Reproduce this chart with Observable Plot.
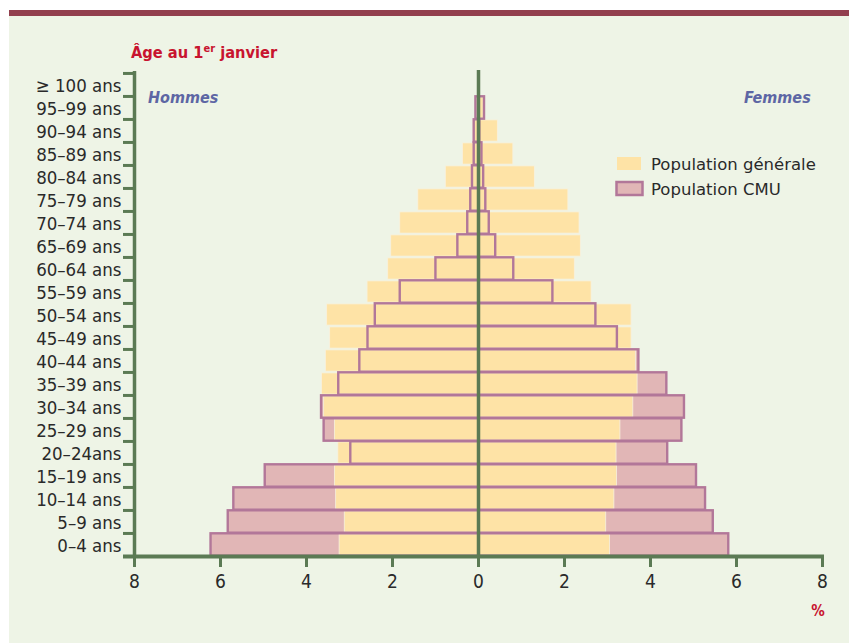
<!DOCTYPE html>
<html>
<head>
<meta charset="utf-8">
<script src="https://cdn.jsdelivr.net/npm/d3@7"></script>
<script src="https://cdn.jsdelivr.net/npm/@observablehq/plot@0.6"></script>
<style>
  html, body { margin: 0; padding: 0; background: #ffffff; }
  #wrap { position: relative; width: 849px; height: 643px; overflow: hidden; background: #ffffff; }
  #bg { position: absolute; left: 9px; top: 15px; right: 0; bottom: 0; background: #eef4e6; }
  #bar { position: absolute; left: 9px; top: 10px; right: 0; height: 6px; background: #923f4e; }
  #chart, #overlay { position: absolute; left: 0; top: 0; }
  svg text { font-family: "DejaVu Sans Condensed", "DejaVu Sans", sans-serif; font-stretch: condensed; }
  svg text.wide { font-family: "DejaVu Sans", sans-serif; font-stretch: normal; }
</style>
</head>
<body>
<div id="wrap">
  <div id="bg"></div>
  <div id="bar"></div>
  <div id="chart"></div>
  <svg id="overlay" width="849" height="643">
    <text x="131" y="58" font-size="16.3" font-weight="bold" fill="#c8142f">Âge au 1<tspan dy="-6" font-size="11">er</tspan><tspan dy="6"> janvier</tspan></text>
    <text x="148" y="103" font-size="16" font-weight="bold" font-style="italic" fill="#5d66a4">Hommes</text>
    <text x="744" y="103" font-size="16" font-weight="bold" font-style="italic" fill="#5d66a4">Femmes</text>
    <rect x="617" y="157" width="24" height="13" fill="#fee3a6"></rect>
    <text class="wide" x="651" y="170" font-size="16.5" fill="#2a2a2a">Population générale</text>
    <rect x="616.5" y="182" width="26" height="13" fill="#e1b6b6" stroke="#b27799" stroke-width="2.5"></rect>
    <text class="wide" x="651" y="195" font-size="16.5" fill="#2a2a2a">Population CMU</text>
    <text x="818" y="616" font-size="15" font-weight="bold" fill="#c8142f" text-anchor="middle">%</text>
  </svg>
</div>
<script>
// Age groups, bottom (0-4) to top (>= 100)
const ages = ["0–4 ans","5–9 ans","10–14 ans","15–19 ans","20–24ans","25–29 ans","30–34 ans","35–39 ans","40–44 ans","45–49 ans","50–54 ans","55–59 ans","60–64 ans","65–69 ans","70–74 ans","75–79 ans","80–84 ans","85–89 ans","90–94 ans","95–99 ans","≥ 100 ans"];
// Population générale (%)
const genHommes = [3.23,3.11,3.31,3.34,3.26,3.34,3.59,3.64,3.55,3.45,3.52,2.58,2.10,2.03,1.82,1.40,0.76,0.36,0.12,0.03,0.01];
const genFemmes = [3.06,2.97,3.16,3.22,3.21,3.30,3.60,3.70,3.66,3.56,3.56,2.63,2.24,2.38,2.35,2.09,1.31,0.81,0.45,0.12,0.02];
// Population CMU (%)
const cmuHommes = [6.22,5.82,5.69,4.96,2.97,3.59,3.65,3.25,2.76,2.57,2.40,1.82,0.99,0.48,0.25,0.18,0.14,0.10,0.10,0.06,0];
const cmuFemmes = [5.82,5.46,5.28,5.07,4.40,4.73,4.79,4.38,3.73,3.23,2.73,1.73,0.82,0.40,0.25,0.17,0.12,0.08,0.03,0.14,0];
const xTicks = [-8,-6,-4,-2,0,2,4,6,8];

const rows = ages.map((age, i) => ({
  age, genH: genHommes[i], genF: genFemmes[i], cmuH: cmuHommes[i], cmuF: cmuFemmes[i]
}));
const cmuRows = rows.filter(d => d.cmuH + d.cmuF > 0);

const green = "#5b7a54";
const W = 849, H = 643, mL = 134, mR = 27, mT = 72, mB = 86;
const step = (H - mT - mB) / ages.length;

const chart = Plot.plot({
  width: W, height: H,
  marginLeft: mL, marginRight: mR, marginTop: mT, marginBottom: mB,
  style: { background: "transparent", fontFamily: "'DejaVu Sans Condensed', 'DejaVu Sans', sans-serif" },
  x: { domain: [-8, 8], axis: null },
  y: { domain: ages.slice().reverse(), padding: 0, axis: null },
  marks: [
    Plot.barX(cmuRows, { y: "age", x1: d => -d.cmuH, x2: d => d.cmuF, fill: "#e1b6b6", insetTop: 0.3, insetBottom: 0.3 }),
    Plot.barX(rows, { y: "age", x1: d => -d.genH, x2: d => d.genF, fill: "#fee3a6", stroke: "#f7f1de", strokeWidth: 0.8, insetTop: 0.9, insetBottom: 0.9 }),
    Plot.barX(cmuRows, { y: "age", x1: d => -d.cmuH, x2: d => d.cmuF, fill: "none", stroke: "#b27799", strokeWidth: 2.4, insetTop: 0.3, insetBottom: 0.3 }),
    Plot.ruleX([0], { stroke: green, strokeWidth: 3.5, insetTop: -2 }),
    Plot.ruleX([-8], { stroke: green, strokeWidth: 3.5, insetTop: -1 }),
    Plot.axisY({ label: null, tickSize: 11, tickFormat: () => "", stroke: green, strokeWidth: 3, dy: -step / 2 }),
    Plot.axisY({ label: null, tickSize: 0, tickPadding: 13, fontSize: 18.5, fill: "#2a2a2a", dy: 1.5 }),
    Plot.ruleY([ages[0]], { dy: step / 2, stroke: green, strokeWidth: 4, insetLeft: -11, insetRight: -2 }),
    Plot.axisX({ label: null, ticks: xTicks, tickFormat: d => Math.abs(d), tickSize: 10, tickPadding: 7, stroke: green, strokeWidth: 3, fontSize: 19, fill: "#2a2a2a" })
  ]
});
document.getElementById("chart").appendChild(chart);
</script>
</body>
</html>
